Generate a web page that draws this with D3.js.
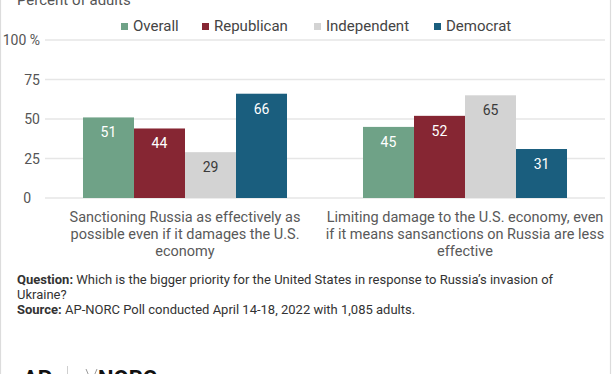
<!DOCTYPE html>
<html>
<head>
<meta charset="utf-8">
<script src="https://cdn.jsdelivr.net/npm/d3@7"></script>
<style>
  html, body { margin: 0; padding: 0; background: #fff; }
  svg { display: block; font-family: Roboto, "Noto Sans", sans-serif; }
</style>
</head>
<body>
<svg id="chart" width="612" height="374"></svg>
<script>
// ---- data ----
const categories = ["sanction", "limit"];
const categoryLines = [
  ["Sanctioning Russia as effectively as", "possible even if it damages the U.S.", "economy"],
  ["Limiting damage to the U.S. economy, even", "if it means sansanctions on Russia are less", "effective"]
];
const series = ["Overall", "Republican", "Independent", "Democrat"];
const overallValues = [51, 45];
const republicanValues = [44, 52];
const independentValues = [29, 65];
const democratValues = [66, 31];
const seriesColors = ["#6fa287", "#862633", "#d3d3d3", "#1a5e7e"];
const labelColors = ["#ffffff", "#ffffff", "#3a3a3a", "#ffffff"];
const yTicks = [0, 25, 50, 75, 100];
const yTickLabels = ["0", "25", "50", "75", "100 %"];
const subtitle = "Percent of adults";
const questionText = ["Which is the bigger priority for the United States in response to Russia\u2019s invasion of", "Ukraine?"];
const sourceText = "AP-NORC Poll conducted April 14-18, 2022 with 1,085 adults.";

const valuesBySeries = [overallValues, republicanValues, independentValues, democratValues];

const svg = d3.select("#chart");

// frame
svg.append("rect").attr("x", 0.5).attr("y", -5).attr("width", 610).attr("height", 390)
  .attr("fill", "none").attr("stroke", "#dcdcdc").attr("stroke-width", 1.2);

// subtitle
svg.append("text").attr("x", 17).attr("y", 5).attr("font-size", 15).attr("fill", "#555")
  .text(subtitle);

// scales
const y = d3.scaleLinear().domain([0, 100]).range([198, 40]);
const x0 = d3.scaleBand().domain(categories).range([45, 605]).padding(0);
const x1 = d3.scaleBand().domain(series).range([0, x0.bandwidth()]).paddingInner(0).paddingOuter(0.745);

// gridlines
svg.append("g").selectAll("line").data(yTicks).join("line")
  .attr("x1", 45).attr("x2", 605)
  .attr("y1", d => y(d)).attr("y2", d => y(d))
  .attr("stroke", "#e6e6e6").attr("stroke-width", 1.3);

// y labels
svg.append("g").selectAll("text").data(yTicks).join("text")
  .attr("x", (d, i) => d === 0 ? 31 : 40)
  .attr("y", d => y(d))
  .attr("dy", "0.36em")
  .attr("text-anchor", "end")
  .attr("font-size", 14).attr("fill", "#555")
  .text((d, i) => yTickLabels[i]);

// bars
const rows = [];
categories.forEach((c, ci) => {
  series.forEach((s, si) => {
    rows.push({ cat: c, ser: s, si, v: valuesBySeries[si][ci] });
  });
});

const bars = svg.append("g");
bars.selectAll("rect").data(rows).join("rect")
  .attr("x", d => x0(d.cat) + x1(d.ser))
  .attr("y", d => y(d.v))
  .attr("width", x1.bandwidth())
  .attr("height", d => y(0) - y(d.v))
  .attr("fill", d => seriesColors[d.si]);

bars.selectAll("text").data(rows).join("text")
  .attr("x", d => x0(d.cat) + x1(d.ser) + x1.bandwidth() / 2)
  .attr("y", d => y(d.v) + 20)
  .attr("text-anchor", "middle")
  .attr("font-size", 14)
  .attr("fill", d => labelColors[d.si])
  .text(d => d.v);

// category labels
const catG = svg.append("g");
categories.forEach((c, ci) => {
  const t = catG.append("text")
    .attr("x", x0(c) + x0.bandwidth() / 2)
    .attr("y", 222)
    .attr("text-anchor", "middle")
    .attr("font-size", 14.5).attr("fill", "#595959");
  categoryLines[ci].forEach((ln, li) => {
    t.append("tspan").attr("x", x0(c) + x0.bandwidth() / 2).attr("y", 222 + li * 17).text(ln);
  });
});

// legend
const legendX = [121, 202, 314, 434];
const leg = svg.append("g");
series.forEach((s, i) => {
  leg.append("rect").attr("x", legendX[i]).attr("y", 23).attr("width", 7).attr("height", 7)
    .attr("fill", seriesColors[i]);
  leg.append("text").attr("x", legendX[i] + 12).attr("y", 31)
    .attr("font-size", 15).attr("fill", "#444").text(s);
});

// footnote
const fn = svg.append("g").attr("font-size", 13).attr("fill", "#333");
const q1 = fn.append("text").attr("x", 17).attr("y", 284);
q1.append("tspan").attr("font-weight", "bold").text("Question:");
q1.append("tspan").text(" " + questionText[0]);
fn.append("text").attr("x", 17).attr("y", 299).text(questionText[1]);
const s1 = fn.append("text").attr("x", 17).attr("y", 314);
s1.append("tspan").attr("font-weight", "bold").text("Source:");
s1.append("tspan").text(" " + sourceText);

// logo (partially cut off, as in the reference)
svg.append("text").attr("x", 23).attr("y", 386).attr("font-size", 22).attr("font-weight", "bold")
  .attr("fill", "#111").text("AP");
svg.append("line").attr("x1", 67.5).attr("x2", 67.5).attr("y1", 366).attr("y2", 384)
  .attr("stroke", "#cfcfcf").attr("stroke-width", 1);
svg.append("path").attr("d", "M86,369 L91.5,382 L97,369").attr("fill", "none")
  .attr("stroke", "#999").attr("stroke-width", 1);
svg.append("text").attr("x", 98).attr("y", 386).attr("font-size", 22).attr("font-weight", "bold")
  .attr("fill", "#111").text("NORC");
</script>
</body>
</html>
